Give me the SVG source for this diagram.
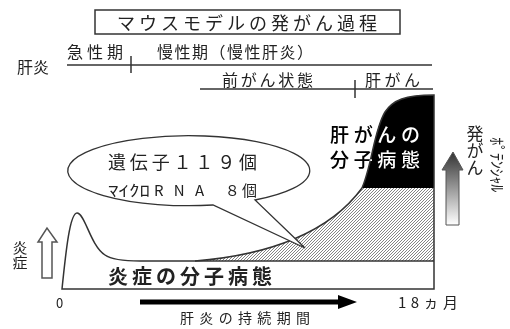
<svg xmlns="http://www.w3.org/2000/svg" width="510" height="329" viewBox="0 0 510 329">
<style>
text{font-family:"Noto Sans CJK JP","Noto Sans",sans-serif;fill:#222}
.t16{font-size:16px}
.ln{stroke:#333;stroke-width:1.5;fill:none}
</style>
<defs>
<pattern id="hatch" width="3" height="3" patternUnits="userSpaceOnUse">
<rect width="3" height="3" fill="#fff"/>
<path d="M-1,1 L1,-1 M0,3 L3,0 M2,4 L4,2" stroke="#666" stroke-width="0.8"/>
</pattern>
<linearGradient id="grad" x1="0" y1="0" x2="0" y2="1">
<stop offset="0" stop-color="#333"/>
<stop offset="1" stop-color="#fff"/>
</linearGradient>
</defs>
<rect width="510" height="329" fill="#fff"/>
<g id="title">
<rect x="95" y="10" width="305" height="24" fill="none" stroke="#333" stroke-width="1.5"/>
<text x="117" y="30" font-size="18" textLength="260" lengthAdjust="spacing">マウスモデルの発がん過程</text>
</g>
<g id="phases">
<text x="17" y="73" class="t16">肝炎</text>
<line x1="67" y1="65" x2="432" y2="65" class="ln"/>
<line x1="131" y1="56" x2="131" y2="73" class="ln"/>
<text x="67" y="58" class="t16" textLength="56" lengthAdjust="spacing">急性期</text>
<text x="157" y="58" class="t16" textLength="156" lengthAdjust="spacing">慢性期（慢性肝炎）</text>
<line x1="200" y1="89" x2="433" y2="89" class="ln"/>
<line x1="355" y1="80" x2="355" y2="98" class="ln"/>
<text x="222" y="86" class="t16" textLength="91" lengthAdjust="spacing">前がん状態</text>
<text x="365" y="86" class="t16" textLength="55" lengthAdjust="spacing">肝がん</text>
</g>
<g id="chart">
<path d="M195,261 C270,255 330,232 362,188 L434,188 L434,261 Z" fill="url(#hatch)"/>
<path d="M362,188 C372,165 374,130 385,112 C393,100 405,95 434,95 L434,188 Z" fill="#000"/>
<path class="ln" d="M62,289 C66,250 70,213 77,213 C85,213 90,245 105,255 C112,260 125,261 140,261 L195,261 C270,255 330,232 362,188 C372,165 374,130 385,112 C393,100 405,95 434,95 L434,289 Z"/>
<line x1="195" y1="261" x2="434" y2="261" class="ln"/>
<text x="108" y="284" font-size="20" font-weight="bold" textLength="164" lengthAdjust="spacing">炎症の分子病態</text>
<g style="mix-blend-mode:difference">
<text x="330" y="142" font-size="19" font-weight="500" textLength="90" lengthAdjust="spacing" style="fill:#fff">肝がんの</text>
<text x="330" y="167" font-size="19" font-weight="500" textLength="90" lengthAdjust="spacing" style="fill:#fff">分子病態</text>
</g>
</g>
<g id="bubble">
<path d="M213,205 A121,35 0 1 1 255,200 L305,248 Z" fill="#fff" stroke="#333" stroke-width="1.3"/>
<text x="108" y="169" font-size="18" textLength="149" lengthAdjust="spacing">遺伝子１１９個</text>
<text y="196" font-size="15"><tspan x="108" textLength="42" lengthAdjust="spacingAndGlyphs">ﾏｲｸﾛ</tspan><tspan x="154" textLength="50" lengthAdjust="spacing">RNA</tspan><tspan x="219" textLength="38" lengthAdjust="spacing"> ８個</tspan></text>
</g>
<g id="axes">
<text x="56" y="308" font-size="13">0</text>
<text x="398" y="308" font-size="15" textLength="60" lengthAdjust="spacing">18ヵ月</text>
<text x="180" y="323" font-size="14" textLength="130" lengthAdjust="spacing">肝炎の持続期間</text>
</g>
<g id="connectors">
<path d="M140,299.5 L338,299.5 L338,295 L357,302 L338,309 L338,304.5 L140,304.5 Z" fill="#000"/>
<path d="M42,278 L42,242 L38,242 L47,228 L57,242 L52,242 L52,278 Z" fill="#fff" stroke="#555" stroke-width="1.5"/>
<path d="M446,225 L446,170 L442,170 L453,152 L463,170 L459,170 L459,225 Z" fill="url(#grad)" stroke="#555" stroke-width="1"/>
</g>
<g id="side-labels">
<text x="20" y="240" font-size="15" style="writing-mode:vertical-rl">炎症</text>
<text x="475" y="125" font-size="17" style="writing-mode:vertical-rl">発がん</text>
<text transform="translate(491,137) rotate(90)" font-size="16" textLength="55" lengthAdjust="spacing">ﾎﾟﾃﾝｼｬﾙ</text>
</g>
</svg>
